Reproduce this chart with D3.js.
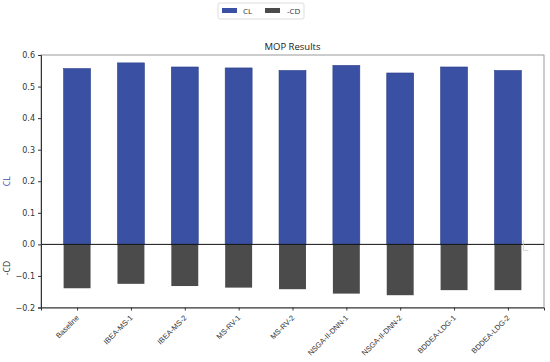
<!DOCTYPE html>
<html><head><meta charset="utf-8">
<script src="https://cdn.jsdelivr.net/npm/d3@7"></script>
<style>body{margin:0;background:#fff}svg{font-family:"Open Sans","DejaVu Sans",sans-serif}</style>
</head><body><svg id="c" width="550" height="362"></svg>
<script>
const categories = ["Baseline","IBEA-MS-1","IBEA-MS-2","MS-RV-1","MS-RV-2","NSGA-II-DNN-1","NSGA-II-DNN-2","BDDEA-LDG-1","BDDEA-LDG-2"];
const clValues = [0.557,0.575,0.562,0.559,0.551,0.567,0.543,0.562,0.551];
const cdValues = [-0.139,-0.125,-0.132,-0.137,-0.142,-0.156,-0.161,-0.145,-0.145];
const yTicks = [-0.2,-0.1,0.0,0.1,0.2,0.3,0.4,0.5,0.6];
const seriesNames = ["CL","-CD"];

const svg = d3.select("#c");
const L = 41, R = 544, T = 55, B = 307.5;
const blue = "#3a50a2", gray = "#4b4b4b";

const x = d3.scaleLinear().domain([-0.67, categories.length - 0.33]).range([L, R]);
const y = d3.scaleLinear().domain([-0.2, 0.6]).range([B, T]);
const bw = (x(1) - x(0)) * 0.5;

// frame
svg.append("rect").attr("x", L).attr("y", T).attr("width", R - L).attr("height", B - T)
  .attr("fill", "none").attr("stroke", "#9a9a9a").attr("stroke-width", 1);

// bars
svg.append("g").selectAll("rect").data(clValues).join("rect")
  .attr("x", (d, i) => x(i) - bw / 2).attr("width", bw)
  .attr("y", d => y(d)).attr("height", d => y(0) - y(d))
  .attr("fill", blue).attr("stroke", "#2c3f8a").attr("stroke-width", 0.6);
svg.append("g").selectAll("rect").data(cdValues).join("rect")
  .attr("x", (d, i) => x(i) - bw / 2).attr("width", bw)
  .attr("y", y(0)).attr("height", d => y(d) - y(0))
  .attr("fill", gray);

// zero line
svg.append("line").attr("x1", L).attr("x2", R).attr("y1", y(0)).attr("y2", y(0))
  .attr("stroke", "#111").attr("stroke-width", 1);

// small leftover marker near right
svg.append("path").attr("d", `M${x(8)+bw/2+2},${y(0)-4}V${y(0)+6}H${x(8)+bw/2+7}`)
  .attr("fill", "none").attr("stroke", "#ccc").attr("stroke-width", 0.8);

// y axis
const ya = svg.append("g").attr("transform", `translate(${L},0)`)
  .call(d3.axisLeft(y).tickValues(yTicks).tickSize(3).tickPadding(3)
    .tickFormat(d => (d < 0 ? "\u2212" + Math.abs(d).toFixed(1) : d.toFixed(1))));
ya.select(".domain").attr("stroke", "#333");
ya.selectAll(".tick line").attr("stroke", "#333");
ya.selectAll("text").attr("font-size", 8).attr("fill", "#333").attr("font-family", "DejaVu Sans, sans-serif");

// x axis
const xa = svg.append("g").attr("transform", `translate(0,${B})`)
  .call(d3.axisBottom(x).tickValues(d3.range(categories.length)).tickSize(3).tickFormat(i => categories[i]));
xa.select(".domain").attr("stroke", "#333");
xa.selectAll(".tick line").attr("stroke", "#333");
xa.selectAll("text").attr("font-size", 7.5).attr("fill", "#333")
  .attr("text-anchor", "end").attr("dy", "0.35em").attr("y", 0).attr("x", 0)
  .attr("transform", "translate(0,9) rotate(-45)");

// y labels
svg.append("text").attr("transform", `translate(10,${y(0.2)}) rotate(-90)`)
  .attr("text-anchor", "middle").attr("font-size", 8.5).attr("fill", "#4a4ab8").text(seriesNames[0]);
svg.append("text").attr("transform", `translate(10,${y(-0.075)}) rotate(-90)`)
  .attr("text-anchor", "middle").attr("font-size", 8.5).attr("fill", "#333").text(seriesNames[1]);

// title
svg.append("text").attr("x", (L + R) / 2).attr("y", 50).attr("text-anchor", "middle")
  .attr("font-size", 9.5).attr("fill", "#222").text("MOP Results");

// legend
const lg = svg.append("g");
lg.append("rect").attr("x", 218).attr("y", 3).attr("width", 86).attr("height", 16)
  .attr("fill", "#fff").attr("stroke", "#ddd").attr("rx", 2);
[[blue, 222, 243], [gray, 265, 287]].forEach((c, i) => {
  lg.append("rect").attr("x", c[1]).attr("y", 8).attr("width", 15).attr("height", 5).attr("fill", c[0]);
  lg.append("text").attr("x", c[2]).attr("y", 14).attr("font-size", 8).attr("fill", "#333").text(seriesNames[i]);
});
</script></body></html>
